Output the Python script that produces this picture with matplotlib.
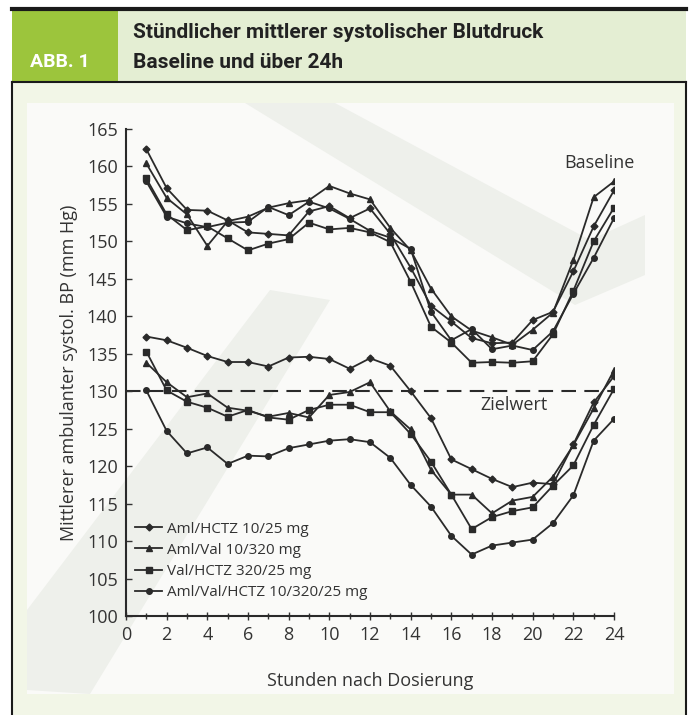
import matplotlib
matplotlib.use("Agg")
import matplotlib.pyplot as plt
from matplotlib.patches import Rectangle, Polygon
from matplotlib.lines import Line2D

# hours after dosing
hours = list(range(1, 25))

# baseline systolic BP (mm Hg)
base_aml_hctz = [162.3, 157.1, 154.2, 154.1, 152.8, 151.2, 151.0, 150.8, 154.0, 154.7, 153.1, 154.4,
                 151.0, 146.5, 141.4, 139.3, 137.1, 136.4, 136.5, 139.5, 140.6, 146.0, 152.0, 156.8]
base_aml_val = [160.4, 155.8, 153.6, 149.4, 152.7, 153.3, 154.5, 155.1, 155.5, 157.4, 156.4, 155.6,
                151.8, 148.8, 143.7, 140.0, 138.1, 137.2, 136.2, 138.2, 140.5, 147.5, 155.9, 158.0]
base_val_hctz = [158.4, 153.6, 151.5, 152.0, 150.4, 148.8, 149.7, 150.3, 152.5, 151.6, 151.8, 151.2,
                 149.9, 144.6, 138.6, 136.5, 133.8, 133.9, 133.8, 134.0, 137.6, 143.4, 150.0, 154.5]
base_triple = [158.0, 153.3, 152.4, 151.9, 152.5, 152.6, 154.6, 153.5, 155.3, 154.4, 153.0, 151.4,
               150.5, 149.0, 140.6, 136.8, 138.3, 135.6, 136.1, 135.5, 138.0, 143.0, 147.8, 153.1]

# on treatment systolic BP (mm Hg)
trt_aml_hctz = [137.3, 136.8, 135.8, 134.7, 133.9, 133.9, 133.3, 134.5, 134.6, 134.3, 133.0, 134.4,
                133.4, 130.0, 126.4, 120.9, 119.6, 118.3, 117.2, 117.8, 117.6, 122.9, 128.5, 132.0]
trt_aml_val = [133.8, 131.2, 129.2, 129.7, 127.8, 127.4, 126.6, 127.1, 126.5, 129.5, 129.9, 131.2,
               127.3, 124.9, 119.5, 116.2, 116.2, 113.7, 115.4, 115.9, 118.6, 122.8, 127.7, 132.8]
trt_val_hctz = [135.3, 130.1, 128.6, 127.8, 126.6, 127.5, 126.5, 126.2, 127.5, 128.2, 128.2, 127.2,
                127.2, 124.3, 120.6, 116.2, 111.6, 113.2, 114.0, 114.5, 117.4, 120.1, 125.5, 130.3]
trt_triple = [130.1, 124.7, 121.7, 122.5, 120.3, 121.4, 121.3, 122.4, 122.9, 123.4, 123.6, 123.2,
              121.1, 117.5, 114.6, 110.7, 108.2, 109.4, 109.8, 110.2, 112.4, 116.1, 123.4, 126.3]

labels = ["Aml/HCTZ 10/25 mg", "Aml/Val 10/320 mg", "Val/HCTZ 320/25 mg", "Aml/Val/HCTZ 10/320/25 mg"]
markers = ["D", "^", "s", "o"]
msizes = [3.5, 4.5, 4.0, 4.0]
target = 130

W, H = 691, 715
fig = plt.figure(figsize=(W / 100, H / 100), dpi=100)
fig.patch.set_facecolor("white")


def px(x, y):
    return (x / W, 1 - y / H)


def rect(x0, y0, x1, y1, color, z=0):
    fig.patches.append(Rectangle(px(x0, y1), (x1 - x0) / W, (y1 - y0) / H,
                                 transform=fig.transFigure, facecolor=color,
                                 edgecolor="none", zorder=z))


# frame and header
rect(12, 82, 686, 715, "#f2f6e7")
rect(27, 103, 674, 694, "#fafaf8")
rect(12, 10, 118, 82, "#9cc53c")
rect(118, 10, 686, 82, "#e4eed3")

# faint watermark bands
for pts in [[(245, 103), (335, 103), (590, 240), (645, 215), (645, 275), (575, 305)],
            [(27, 610), (27, 690), (90, 694), (330, 300), (270, 290)]]:
    fig.patches.append(Polygon([px(*p) for p in pts], closed=True, transform=fig.transFigure,
                               facecolor="#eef0eb", edgecolor="none", zorder=0.5))

for xs, ys, lw in [((12, 686), (9, 9), 3.0), ((12, 686), (82, 82), 1.5),
                   ((12, 12), (82, 715), 1.5), ((686, 686), (82, 715), 1.5)]:
    fig.lines.append(Line2D([x / W for x in xs], [1 - y / H for y in ys],
                            transform=fig.transFigure, color="#1a1a1a", lw=lw, zorder=3))

head_font = ["Liberation Sans Narrow", "Roboto", "DejaVu Sans"]
fig.text(30 / W, 1 - 62 / H, "ABB. 1", color="white", fontsize=14, fontweight="bold",
         family=head_font, va="center", ha="left")
fig.text(133 / W, 1 - 33 / H, "Stündlicher mittlerer systolischer Blutdruck", color="#222222",
         fontsize=15, fontweight="bold", family=head_font, va="center", ha="left")
fig.text(133 / W, 1 - 62 / H, "Baseline und über 24h", color="#222222",
         fontsize=15, fontweight="bold", family=head_font, va="center", ha="left")

# chart
ax = fig.add_axes([126 / W, 1 - 616 / H, (614 - 126) / W, (616 - 129) / H])
ax.set_facecolor("none")
ax.set_zorder(2)

body_font = ["Open Sans", "DejaVu Sans"]
col = "#2a2a2a"
base = [base_aml_hctz, base_aml_val, base_val_hctz, base_triple]
trt = [trt_aml_hctz, trt_aml_val, trt_val_hctz, trt_triple]
for b, t, m, ms, lab in zip(base, trt, markers, msizes, labels):
    ax.plot(hours, b, color=col, lw=1.3, marker=m, ms=ms)
    ax.plot(hours, t, color=col, lw=1.3, marker=m, ms=ms, label=lab)

ax.axhline(target, color=col, lw=1.5, ls=(0, (7, 4)), zorder=1)

ax.text(23.3, 160.5, "Baseline", fontsize=13, family=body_font, color="#333333", ha="center", va="center")
ax.text(19.1, 128.2, "Zielwert", fontsize=13, family=body_font, color="#333333", ha="center", va="center")

ax.set_xlim(0, 24)
ax.set_ylim(100, 165)
ax.set_xticks(range(0, 25, 2))
ax.set_xticks(range(0, 25), minor=True)
ax.set_yticks(range(100, 166, 5))
for s in ["top", "right"]:
    ax.spines[s].set_visible(False)
for s in ["left", "bottom"]:
    ax.spines[s].set_linewidth(1.5)
    ax.spines[s].set_color(col)
ax.tick_params(axis="y", direction="in", length=4, width=1, labelsize=13, colors="#333333", pad=6)
ax.tick_params(axis="x", which="major", direction="inout", length=6, width=1, labelsize=13,
               colors="#333333", pad=4)
ax.tick_params(axis="x", which="minor", direction="inout", length=4, width=1, colors="#333333")
for lbl in ax.get_xticklabels() + ax.get_yticklabels():
    lbl.set_family(body_font)

ax.set_xlabel("Stunden nach Dosierung", fontsize=13, family=body_font, color="#333333", labelpad=20)
ax.set_ylabel("Mittlerer ambulanter systol. BP (mm Hg)", fontsize=13, family=body_font,
              color="#333333", labelpad=6)

ax.legend(loc="upper left", bbox_to_anchor=(-0.01, 0.222), frameon=False, handlelength=1.8,
          labelspacing=0.4, handletextpad=0.3, prop={"family": body_font, "size": 11},
          labelcolor="#333333")

fig.savefig("out.png", dpi=100, facecolor=fig.get_facecolor())
